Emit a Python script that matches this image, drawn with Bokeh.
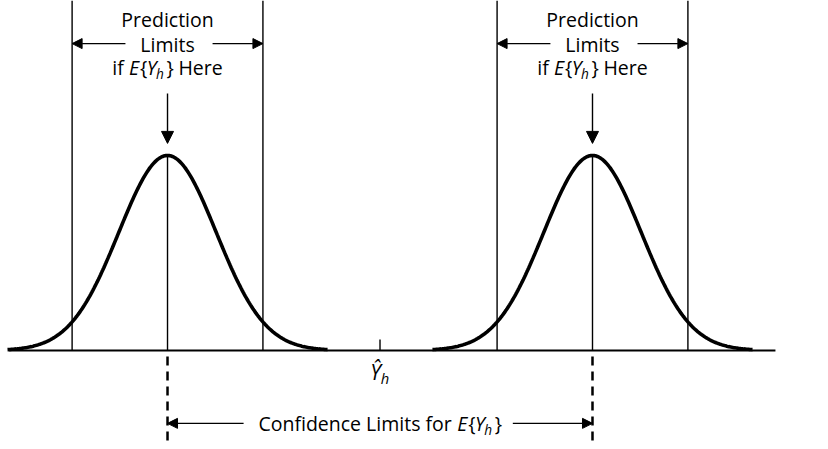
import numpy as np
from bokeh.plotting import figure
from bokeh.models import Range1d, Arrow, NormalHead
from bokeh.core.properties import value
from bokeh.embed import file_html
from bokeh.resources import INLINE

# ---- data (x in units of the distance from Y_hat to each E{Y_h}; Y_hat = 0) ----
yhat_pos = [0.0]
ey_positions = [-1.0, 1.0]          # E{Y_h} placed at lower / upper confidence limit
sigma = 0.229                       # s.d. of the distribution of Y_h(new)
pred_half = 0.449                   # half-width of the prediction limits
curve_half = 0.753                  # extent of the drawn tails
baseline_span = [-1.748, 1.861]
pred_labels = ["Prediction", "Limits"]
conf_label = "Confidence Limits for"

FONT = value("Open Sans")
FS = 19.5

TOP = 1.795
BOT = -0.467

p = figure(width=820, height=441, output_backend="svg", toolbar_location=None,
           x_range=Range1d(-1.786, 2.073), y_range=Range1d(BOT, TOP),
           x_axis_location=None, y_axis_location=None, min_border=0)
p.grid.visible = False
p.outline_line_color = None
p.background_fill_color = "white"

# baseline
p.line(x=baseline_span, y=[0, 0], line_color="black", line_width=2)

# prediction-limit lines (full height) and centre lines (baseline to peak)
vx = []
for c in ey_positions:
    vx += [c - pred_half, c + pred_half]
p.segment(x0=vx, y0=[0] * len(vx), x1=vx, y1=[TOP] * len(vx),
          line_color="black", line_width=1.4)
p.segment(x0=ey_positions, y0=[0] * 2, x1=ey_positions, y1=[1.0] * 2,
          line_color="black", line_width=1.4)

# normal curves
for c in ey_positions:
    xs = np.linspace(c - curve_half, c + curve_half, 300)
    ys = np.exp(-0.5 * ((xs - c) / sigma) ** 2)
    p.line(x=xs, y=ys, line_color="black", line_width=3.6)

# Y_hat tick
p.segment(x0=yhat_pos, y0=[0], x1=yhat_pos, y1=[0.056], line_color="black", line_width=1.4)

# dashed confidence-limit lines
p.segment(x0=ey_positions, y0=[-0.031] * 2, x1=ey_positions, y1=[BOT] * 2,
          line_color="black", line_width=2.5, line_dash="9 6")


def arrow(x0, y0, x1, y1, size=10):
    p.add_layout(Arrow(end=NormalHead(size=size, fill_color="black", line_color="black",
                                      line_width=1),
                       x_start=x0, y_start=y0, x_end=x1, y_end=y1,
                       line_color="black", line_width=1.4))


W = {'i': .253, 'f': .344, ' ': .26, 'E': .56, '{': .353, 'Y': .55, 'h': .614,
     '}': .353, 'H': .742, 'e': .561, 'r': .408, 'C': .618, 'o': .601, 'n': .614,
     'd': .613, 'c': .479, 'L': .519, 'm': .94, 't': .361, 's': .477, 'P': .6,
     'Ŷ': .55}


def rich(x, y, parts, size=FS):
    # parts: (text, italic, subscript, extra gap after in px)
    widths = []
    for s, it, sub, gap in parts:
        fs = size * 0.7 if sub else size
        widths.append(sum(W.get(ch, .55) for ch in s) * fs + gap)
    off = -sum(widths) / 2
    for (s, it, sub, gap), w in zip(parts, widths):
        fs = size * 0.7 if sub else size
        if s.strip():
            p.text(x=[x], y=[y], text=[s], x_offset=off, y_offset=(6 if sub else 0),
                   text_align="left", text_baseline="middle", text_font=FONT,
                   text_font_style="italic" if it else "normal",
                   text_font_size=f"{fs:.1f}px", text_color="black")
        off += w


EY_PARTS = [("E", True, False, 0), ("{", False, False, 0), ("Y", True, False, -1.5),
            ("h", True, True, 2), ("}", False, False, 0)]

for c in ey_positions:
    p.text(x=[c], y=[1.697], text=[pred_labels[0]], text_align="center",
           text_baseline="middle", text_font=FONT, text_font_size=f"{FS}px")
    p.text(x=[c], y=[1.569], text=[pred_labels[1]], text_align="center",
           text_baseline="middle", text_font=FONT, text_font_size=f"{FS}px")
    rich(c, 1.451, [("if", False, False, 0), (" ", False, False, 0)] + EY_PARTS +
         [(" ", False, False, 0), ("Here", False, False, 0)])
    arrow(c - 0.198, 1.574, c - pred_half, 1.574)
    arrow(c + 0.212, 1.574, c + pred_half, 1.574)
    arrow(c, 1.318, c, 1.062, size=12)

# confidence limits label and arrows
CY = -0.374
rich(yhat_pos[0], CY, [(conf_label, False, False, 0), (" ", False, False, 0)] + EY_PARTS)
arrow(-0.642, CY, ey_positions[0], CY)
arrow(0.625, CY, ey_positions[1], CY)

# Y_hat label
rich(yhat_pos[0], -0.113, [("Ŷ", True, False, -1), ("h", True, True, 0)], size=21)

open("out.html", "w").write(file_html(p, INLINE))
